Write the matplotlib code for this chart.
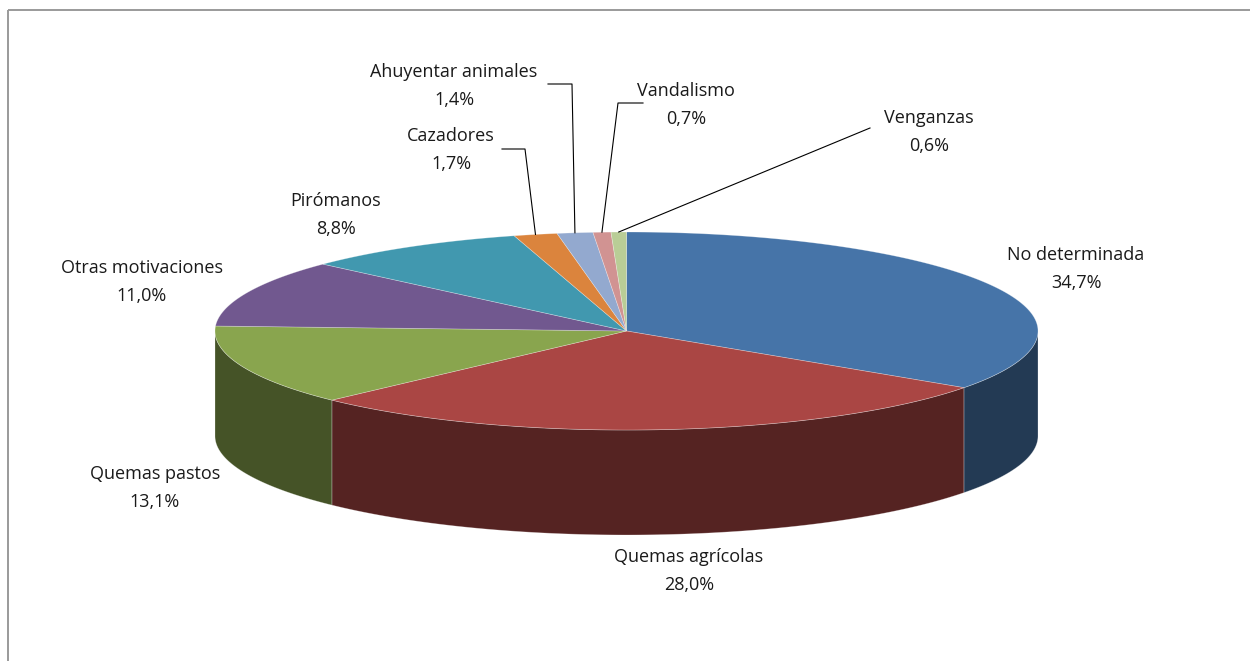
import numpy as np
import matplotlib
matplotlib.use('Agg')
import matplotlib.pyplot as plt
from matplotlib.patches import Polygon, Rectangle

plt.rcParams['font.family'] = ['Open Sans', 'DejaVu Sans']

# datos
categorias = ['No determinada', 'Quemas agrícolas', 'Quemas pastos', 'Otras motivaciones',
              'Pirómanos', 'Cazadores', 'Ahuyentar animales', 'Vandalismo', 'Venganzas']
valores = [34.7, 28.0, 13.1, 11.0, 8.8, 1.7, 1.4, 0.7, 0.6]
colores = ['#4674A8', '#AA4644', '#89A54E', '#71588F', '#4198AF',
           '#DB843D', '#93A9CF', '#D19392', '#B9CD96']

# posiciones de las etiquetas (pixeles)
pos_etiquetas = [(1076, 269), (689, 571), (155, 488), (142, 282), (336, 215),
                 (451, 150), (454, 86), (686, 105), (929, 132)]
# codos de las lineas guia (solo para las pequenas)
guias = {5: [(502, 149), (525, 149)],
         6: [(548, 84), (572, 84)],
         7: [(643, 103), (618, 103)],
         8: [(870, 128)]}

cx, cy, rx, ry, prof = 626.5, 331, 411.5, 99, 105


def punto(theta):
    t = np.radians(theta)
    return cx + rx * np.sin(t), cy - ry * np.cos(t)


def oscuro(c, f=0.5):
    r, g, b = matplotlib.colors.to_rgb(c)
    return (r * f, g * f, b * f)


fig = plt.figure(figsize=(12.5, 6.61), dpi=100)
ax = fig.add_axes([0, 0, 1, 1])
ax.set_xlim(0, 1250)
ax.set_ylim(661, 0)
ax.axis('off')

ax.add_patch(Rectangle((7.5, 9.5), 1400, 800, fill=False, edgecolor='#9a9a9a', lw=1.4))

total = sum(valores)
limites = np.concatenate([[0], np.cumsum(valores)]) / total * 360

# caras laterales (mitad frontal)
for i, v in enumerate(valores):
    a0, a1 = max(limites[i], 90), min(limites[i + 1], 270)
    if a1 <= a0:
        continue
    th = np.linspace(a0, a1, 200)
    xs, ys = punto(th)
    pts = list(zip(xs, ys)) + list(zip(xs[::-1], ys[::-1] + prof))
    ax.add_patch(Polygon(pts, closed=True, facecolor=oscuro(colores[i]),
                         edgecolor=(1, 1, 1, 0.35), lw=0.5))

# caras superiores
for i, v in enumerate(valores):
    th = np.linspace(limites[i], limites[i + 1], 300)
    xs, ys = punto(th)
    pts = [(cx, cy)] + list(zip(xs, ys))
    ax.add_patch(Polygon(pts, closed=True, facecolor=colores[i],
                         edgecolor=(1, 1, 1, 0.35), lw=0.5))

# etiquetas
for i, (cat, v) in enumerate(zip(categorias, valores)):
    x, y = pos_etiquetas[i]
    txt = cat + '\n' + f'{v:.1f}%'.replace('.', ',')
    ax.text(x, y, txt, ha='center', va='center', fontsize=13,
            color='#1a1a1a', linespacing=1.65)
    if i in guias:
        medio = (limites[i] + limites[i + 1]) / 2
        px, py = punto(medio)
        lx = [p[0] for p in guias[i]] + [px]
        ly = [p[1] for p in guias[i]] + [py]
        ax.plot(lx, ly, color='black', lw=0.8)

fig.savefig('out.png', dpi=100)
